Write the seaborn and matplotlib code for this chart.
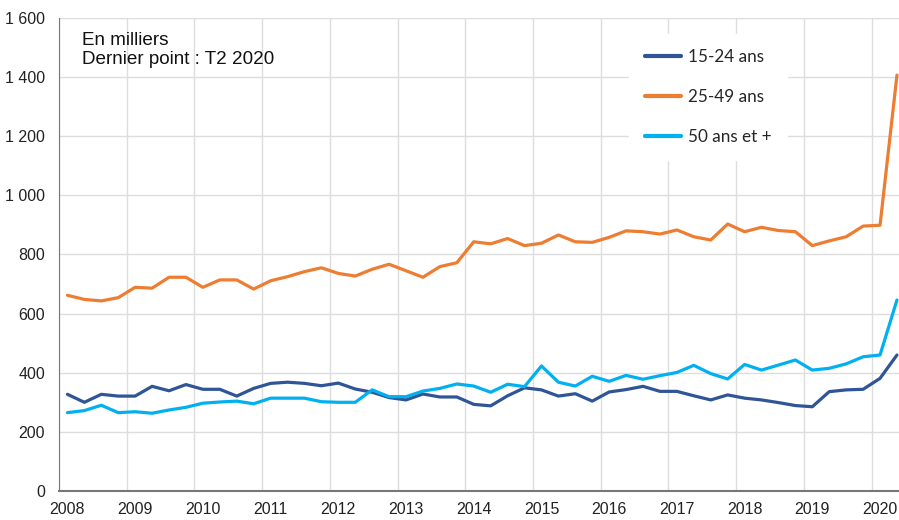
import numpy as np
import pandas as pd
import seaborn as sns
import matplotlib.pyplot as plt
from matplotlib.ticker import FixedLocator, FuncFormatter

# quarterly, T1 2008 -> T2 2020
years = list(range(2008, 2021))
quarters = [y + q / 4 for y in years for q in range(4)][:50]

jeunes = [327, 300, 327, 321, 321, 354, 339, 360, 344, 344,
          321, 347, 364, 368, 364, 356, 365, 345, 334, 316,
          308, 328, 318, 318, 293, 288, 322, 349, 342, 321,
          329, 304, 335, 343, 354, 337, 337, 322, 308, 325,
          314, 308, 299, 289, 285, 336, 342, 344, 381, 460]
adultes = [662, 648, 643, 654, 689, 686, 723, 723, 689, 714,
           714, 683, 711, 725, 742, 755, 736, 727, 750, 767,
           745, 723, 759, 772, 843, 836, 854, 830, 838, 866,
           843, 841, 858, 880, 877, 869, 883, 860, 849, 903,
           877, 892, 881, 877, 830, 846, 860, 896, 899, 1407]
seniors = [265, 272, 290, 265, 268, 263, 274, 283, 297, 301,
           304, 295, 314, 314, 314, 302, 300, 300, 342, 319,
           319, 338, 347, 362, 355, 334, 361, 353, 423, 368,
           355, 388, 371, 391, 378, 390, 401, 425, 397, 379,
           428, 409, 426, 443, 409, 415, 430, 454, 460, 646]

labels = ["15-24 ans", "25-49 ans", "50 ans et +"]
colors = ["#2F5597", "#ED7D31", "#00B0F0"]

df = pd.DataFrame({
    "date": quarters * 3,
    "valeur": jeunes + adultes + seniors,
    "groupe": [labels[0]] * 50 + [labels[1]] * 50 + [labels[2]] * 50,
})

sns.set_style("white")
plt.rcParams["font.family"] = ["Liberation Sans Narrow", "Liberation Sans", "DejaVu Sans"]

fig = plt.figure(figsize=(8.99, 5.2), dpi=100)
ax = fig.add_axes([0.0656, 0.0558, 0.9344, 0.9096])

sns.lineplot(data=df, x="date", y="valeur", hue="groupe", palette=colors,
             linewidth=2.3, ax=ax, legend=True)

ax.set_xlim(2007.875, 2020.28)
ax.set_ylim(0, 1600)
ax.set_xlabel("")
ax.set_ylabel("")

ax.xaxis.set_major_locator(FixedLocator(years))
ax.xaxis.set_minor_locator(FixedLocator([y - 0.125 for y in years]))
ax.yaxis.set_major_locator(FixedLocator(np.arange(0, 1601, 200)))
ax.yaxis.set_major_formatter(FuncFormatter(lambda v, p: f"{int(v):,}".replace(",", " ")))
ax.tick_params(axis="both", which="both", length=0, labelsize=11.5, colors="#222222")
ax.tick_params(axis="x", pad=8)
ax.tick_params(axis="y", pad=10)

ax.grid(axis="y", which="major", color="#dddddd", linewidth=1)
ax.grid(axis="x", which="minor", color="#dddddd", linewidth=1)
ax.grid(axis="x", which="major", visible=False)
ax.set_axisbelow(True)

for s in ["top", "right"]:
    ax.spines[s].set_visible(False)
ax.spines["left"].set_color("#777777")
ax.spines["bottom"].set_color("#777777")
ax.spines["bottom"].set_linewidth(1.5)

ax.text(0.027, 0.97, "En milliers\nDernier point : T2 2020", transform=ax.transAxes,
        ha="left", va="top", fontsize=13.6, family=["Liberation Sans", "DejaVu Sans"],
        linespacing=1.15, color="#111111")

leg = ax.legend(loc="upper left", bbox_to_anchor=(0.669, 0.985), frameon=True,
                facecolor="white", edgecolor="white", framealpha=1,
                prop={"family": "Lato", "size": 12.3}, handlelength=2.1,
                labelspacing=1.4, handletextpad=0.4, borderpad=0.9)
for line in leg.get_lines():
    line.set_linewidth(3)

fig.savefig("out.png", dpi=100)
